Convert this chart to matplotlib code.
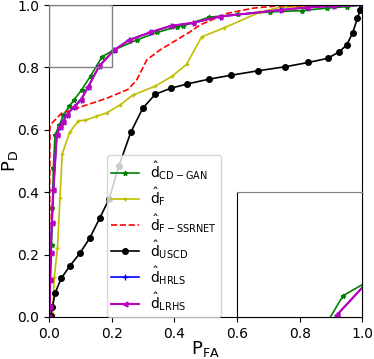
import matplotlib
matplotlib.use('Agg')
import matplotlib.pyplot as plt
from matplotlib.patches import Rectangle

# ROC data (P_FA, P_D)
cdgan_x = [0.0, 0.005, 0.008, 0.011, 0.014, 0.019, 0.033, 0.046, 0.065, 0.080, 0.104, 0.133,
           0.169, 0.207, 0.280, 0.344, 0.407, 0.428, 0.511, 0.604, 0.705, 0.806, 0.886, 0.95, 1.0]
cdgan_y = [0.0, 0.12, 0.23, 0.35, 0.477, 0.583, 0.615, 0.647, 0.676, 0.696, 0.728, 0.773,
           0.834, 0.856, 0.888, 0.912, 0.930, 0.933, 0.961, 0.970, 0.978, 0.982, 0.990, 0.995, 1.0]

f_x = [0.0, 0.012, 0.017, 0.027, 0.035, 0.042, 0.066, 0.094, 0.116, 0.151, 0.184, 0.226,
       0.267, 0.339, 0.393, 0.439, 0.487, 0.559, 0.673, 0.737, 1.0]
f_y = [0.0, 0.01, 0.129, 0.220, 0.380, 0.522, 0.592, 0.629, 0.631, 0.643, 0.654, 0.679,
       0.711, 0.740, 0.772, 0.810, 0.898, 0.927, 0.977, 0.993, 1.0]

ssrnet_x = [0.0, 0.002, 0.003, 0.04, 0.109, 0.184, 0.253, 0.280, 0.312, 0.354, 0.407, 0.450,
            0.482, 0.567, 0.652, 0.726, 1.0]
ssrnet_y = [0.0, 0.3, 0.615, 0.653, 0.676, 0.701, 0.730, 0.760, 0.824, 0.856, 0.888, 0.914,
            0.936, 0.973, 0.990, 0.997, 1.0]

uscd_x = [0.0, 0.005, 0.011, 0.019, 0.039, 0.067, 0.099, 0.130, 0.162, 0.192, 0.223, 0.261,
          0.299, 0.339, 0.388, 0.441, 0.509, 0.581, 0.666, 0.753, 0.828, 0.889, 0.926, 0.950,
          0.969, 0.984, 0.993, 1.0]
uscd_y = [0.0, 0.004, 0.031, 0.076, 0.124, 0.164, 0.205, 0.253, 0.317, 0.379, 0.484, 0.592,
          0.669, 0.714, 0.733, 0.747, 0.762, 0.775, 0.789, 0.802, 0.816, 0.829, 0.850, 0.872,
          0.911, 0.957, 0.984, 0.997]

lrhs_x = [0.0, 0.003, 0.003, 0.005, 0.009, 0.014, 0.025, 0.035, 0.044, 0.056, 0.080, 0.102,
          0.125, 0.160, 0.208, 0.256, 0.322, 0.388, 0.460, 0.545, 0.737, 0.822, 0.907, 1.0]
lrhs_y = [0.0, 0.033, 0.119, 0.204, 0.300, 0.407, 0.583, 0.610, 0.626, 0.647, 0.674, 0.696,
          0.738, 0.804, 0.856, 0.888, 0.912, 0.933, 0.943, 0.963, 0.984, 0.992, 0.997, 1.0]
# HRLS lies underneath LRHS everywhere in the figure
hrls_x = lrhs_x
hrls_y = lrhs_y

labels = [r'$\mathrm{\hat{d}_{CD-GAN}}$', r'$\mathrm{\hat{d}_{F}}$', r'$\mathrm{\hat{d}_{F-SSRNET}}$',
          r'$\mathrm{\hat{d}_{USCD}}$', r'$\mathrm{\hat{d}_{HRLS}}$', r'$\mathrm{\hat{d}_{LRHS}}$']


def drawCurves(ax, lw=1.2):
    ax.plot(cdgan_x, cdgan_y, '-*', color='green', lw=lw, ms=3.5, label=labels[0])
    ax.plot(f_x, f_y, '-+', color='y', lw=lw, ms=3, label=labels[1])
    ax.plot(ssrnet_x, ssrnet_y, '--', color='red', lw=lw, label=labels[2])
    ax.plot(uscd_x, uscd_y, '-o', color='black', lw=lw, ms=4, label=labels[3])
    ax.plot(hrls_x, hrls_y, '-+', color='blue', lw=lw, ms=4, label=labels[4])
    ax.plot(lrhs_x, lrhs_y, '-<', color='m', lw=lw + 0.3, ms=3.5, label=labels[5])


fig = plt.figure(figsize=(3.74, 3.59), dpi=100)
ax = fig.add_axes([0.131, 0.117, 0.838, 0.869])
drawCurves(ax)
ax.set_xlim(0, 1)
ax.set_ylim(0, 1)
ax.set_xticks([0.0, 0.2, 0.4, 0.6, 0.8, 1.0])
ax.set_yticks([0.0, 0.2, 0.4, 0.6, 0.8, 1.0])
ax.tick_params(labelsize=10)
ax.set_xlabel(r'$\mathrm{P_{FA}}$', fontsize=13, labelpad=-1)
ax.set_ylabel(r'$\mathrm{P_{D}}$', fontsize=13, labelpad=-2)
ax.legend(loc='lower left', bbox_to_anchor=(0.185, 0.0), borderaxespad=0, fontsize=10,
          labelspacing=0.25, borderpad=0.3)

# zoomed inset of the upper-left corner
ax.add_patch(Rectangle((0.0, 0.8), 0.2, 0.2, fill=False, edgecolor='0.5', lw=1.0, zorder=5))
axins = ax.inset_axes([0.6, 0.0, 0.4, 0.4])
drawCurves(axins)
axins.set_xlim(0, 0.2)
axins.set_ylim(0.8, 1.0)
axins.set_xticks([])
axins.set_yticks([])
axins.spines['top'].set_color('0.5')

fig.savefig('out.png', dpi=100)
